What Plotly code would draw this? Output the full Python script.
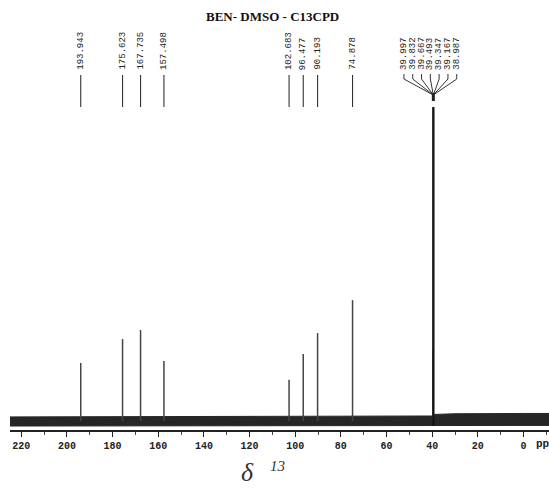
import plotly.graph_objects as go

# 13C CPD spectrum in DMSO-d6: peak positions (ppm) and relative heights (solvent = 100)
peak_ppm = [193.943, 175.623, 167.735, 157.498, 102.683, 96.477, 90.193, 74.878]
peak_height = [18.5, 26.1, 29.0, 19.1, 13.1, 21.3, 28.0, 38.5]

# DMSO-d6 septet
solvent_labels = [39.997, 39.832, 39.667, 39.493, 39.347, 39.167, 38.987]
solvent_ppm = 39.493
solvent_height = 100.0
solvent_shoulder_ppm = 39.75
solvent_shoulder_height = 22.5

# envelope of the baseline noise band
noise_ppm = [225, 180, 120, 60, 40.2, 39.0, 30, 0, -12]
noise_low = [-1.6, -1.6, -1.6, -1.5, -1.5, -1.4, -1.4, -1.4, -1.4]
noise_high = [1.3, 1.4, 1.5, 1.6, 1.6, 2.1, 2.3, 2.4, 2.4]

tick_vals = list(range(0, 221, 20))
tick_text = [str(v) for v in tick_vals]

W, H = 549, 490
L, B = 10, 60
PLOT_H = H - B            # plot area height in px
BASE_PX = 421             # baseline row
UNIT_PX = 3.14            # px per intensity unit
PPM0_PX = 523.5           # px of 0 ppm
PX_PER_PPM = 2.283


def y_of(px):
    return (BASE_PX - px) / UNIT_PX


def ppm_of(px):
    return (PPM0_PX - px) / PX_PER_PPM


def px_of(ppm):
    return PPM0_PX - ppm * PX_PER_PPM


def paper_x(px):
    return (px - L) / (W - L)


def paper_y(px):
    return 1 - px / PLOT_H


x_range = [ppm_of(L), ppm_of(W)]
y_range = [y_of(PLOT_H), y_of(0)]

fig = go.Figure()

# baseline noise band
fig.add_trace(go.Scatter(x=noise_ppm, y=noise_low, mode="lines",
                         line=dict(color="#262626", width=1), hoverinfo="skip"))
fig.add_trace(go.Scatter(x=noise_ppm, y=noise_high, mode="lines", fill="tonexty",
                         fillcolor="#262626", line=dict(color="#262626", width=1),
                         hoverinfo="skip"))

# sample peaks
xs, ys = [], []
for p, h in zip(peak_ppm, peak_height):
    xs += [p, p, None]
    ys += [0, h, None]
fig.add_trace(go.Scatter(x=xs, y=ys, mode="lines",
                         line=dict(color="#444444", width=1.5), hoverinfo="skip"))

# solvent peak
fig.add_trace(go.Scatter(x=[solvent_shoulder_ppm, solvent_shoulder_ppm],
                         y=[0, solvent_shoulder_height], mode="lines",
                         line=dict(color="#777777", width=1.2), hoverinfo="skip"))
fig.add_trace(go.Scatter(x=[solvent_ppm, solvent_ppm], y=[-1.5, solvent_height],
                         mode="lines", line=dict(color="#151515", width=2.4),
                         hoverinfo="skip"))

shapes = []
annotations = []
label_font = dict(family="Liberation Mono", size=9, color="#222222")
LABEL_BOTTOM_PX = 72

# single-peak labels with their tick lines
for p in peak_ppm:
    shapes.append(dict(type="line", xref="x", yref="y", x0=p, x1=p,
                       y0=y_of(75), y1=y_of(107),
                       line=dict(color="#333333", width=1.1)))
    annotations.append(dict(x=p, y=y_of(LABEL_BOTTOM_PX), xref="x", yref="y",
                            text=f"{p:.3f}", textangle=-90, showarrow=False,
                            xanchor="center", yanchor="bottom", font=label_font))

# fan of labels for the solvent multiplet
center_px = px_of(solvent_ppm)
spacing = 8.8
n = len(solvent_labels)
for i, v in enumerate(solvent_labels):
    lx = center_px - 3 + (i - (n - 1) / 2) * spacing
    lp = ppm_of(lx)
    annotations.append(dict(x=lp, y=y_of(LABEL_BOTTOM_PX), xref="x", yref="y",
                            text=f"{v:.3f}", textangle=-90, showarrow=False,
                            xanchor="center", yanchor="bottom", font=label_font))
    shapes.append(dict(type="path", xref="x", yref="y",
                       path=f"M {lp},{y_of(74)} L {lp},{y_of(79)} "
                            f"L {solvent_ppm},{y_of(95)}",
                       line=dict(color="#333333", width=1)))
shapes.append(dict(type="line", xref="x", yref="y", x0=solvent_ppm, x1=solvent_ppm,
                   y0=y_of(93), y1=y_of(101), line=dict(color="#222222", width=3)))

# title
annotations.append(dict(x=267 / W, y=1 - 19 / H, xref="paper", yref="paper",
                        text="<b>BEN- DMSO - C13CPD</b>", showarrow=False,
                        xanchor="center", yanchor="middle",
                        font=dict(family="Liberation Serif", size=13, color="#111111")))
# axis unit, running off the right edge
annotations.append(dict(x=paper_x(534), y=paper_y(444), xref="paper", yref="paper",
                        text="<b>ppm</b>", showarrow=False, xanchor="left",
                        yanchor="middle",
                        font=dict(family="Liberation Mono", size=11, color="#222222")))
# delta label
annotations.append(dict(x=paper_x(247), y=paper_y(472), xref="paper", yref="paper",
                        text="<i>δ</i>", showarrow=False, xanchor="center",
                        yanchor="middle",
                        font=dict(family="Liberation Serif", size=26, color="#333333")))
annotations.append(dict(x=paper_x(277), y=paper_y(466), xref="paper", yref="paper",
                        text="<i>13</i>", showarrow=False, xanchor="center",
                        yanchor="middle",
                        font=dict(family="Liberation Serif", size=15, color="#333333")))

fig.update_layout(
    width=W, height=H,
    margin=dict(l=L, r=0, t=0, b=B),
    paper_bgcolor="white", plot_bgcolor="white",
    showlegend=False,
    shapes=shapes, annotations=annotations,
    xaxis=dict(range=x_range, showgrid=False, zeroline=False,
               showline=True, linecolor="#222222", linewidth=1.5,
               ticks="outside", ticklen=5, tickwidth=1.2, tickcolor="#222222",
               tickvals=tick_vals, ticktext=tick_text,
               tickfont=dict(family="Liberation Mono", size=10, color="#222222",
                             weight="bold"),
               minor=dict(dtick=10, ticks="outside", ticklen=3, tickcolor="#444444"),
               fixedrange=True),
    yaxis=dict(range=y_range, visible=False, fixedrange=True),
)

fig.write_html("out.html")
